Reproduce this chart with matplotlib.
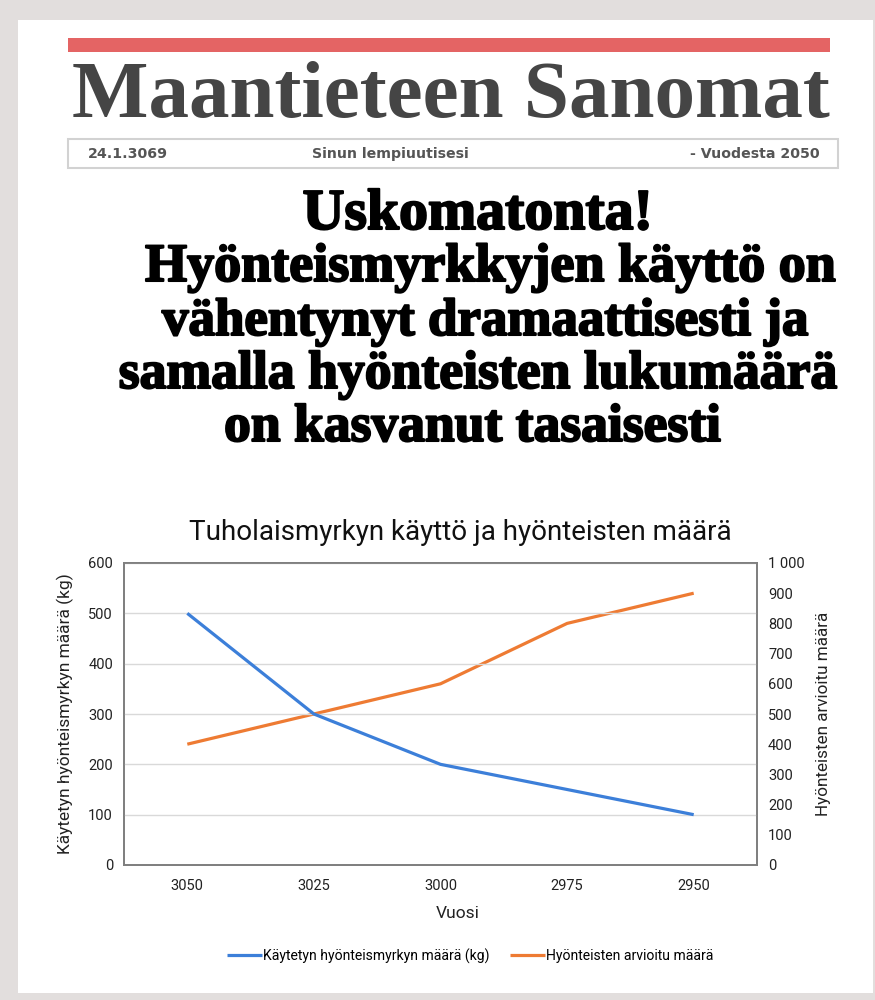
import matplotlib
matplotlib.use("Agg")
import matplotlib.pyplot as plt
import matplotlib.patches as mpatches
import matplotlib.patheffects as pe
from matplotlib.ticker import FuncFormatter, MultipleLocator

# ---- data ----
years = ["3050", "3025", "3000", "2975", "2950"]
pesticide_kg = [500, 300, 200, 150, 100]
insects = [400, 500, 600, 800, 900]

masthead = "Maantieteen Sanomat"
date_text = "24.1.3069"
slogan = "Sinun lempiuutisesi"
since_text = "- Vuodesta 2050"
headline_lines = [
    "Uskomatonta!",
    "Hyönteismyrkkyjen käyttö on",
    "vähentynyt dramaattisesti ja",
    "samalla hyönteisten lukumäärä",
    "on kasvanut tasaisesti",
]
chart_title = "Tuholaismyrkyn käyttö ja hyönteisten määrä"
xlabel = "Vuosi"
ylabel_left = "Käytetyn hyönteismyrkyn määrä (kg)"
ylabel_right = "Hyönteisten arvioitu määrä"
legend_labels = ["Käytetyn hyönteismyrkyn määrä (kg)", "Hyönteisten arvioitu määrä"]

W, H = 875, 1000
fig = plt.figure(figsize=(W / 100, H / 100), dpi=100)
fig.patch.set_facecolor("#e2dedd")

def fx(x):
    return x / W

def fy(y):
    return 1 - y / H

# page
fig.add_artist(mpatches.Rectangle((fx(18), fy(993)), fx(873) - fx(18), fy(20) - fy(993),
                                  transform=fig.transFigure, facecolor="white", edgecolor="none", zorder=0))
# red bar
fig.add_artist(mpatches.Rectangle((fx(68), fy(52)), fx(830) - fx(68), fy(38) - fy(52),
                                  transform=fig.transFigure, facecolor="#e46464", edgecolor="none", zorder=1))
# date box
fig.add_artist(mpatches.Rectangle((fx(68), fy(168)), fx(838) - fx(68), fy(139) - fy(168),
                                  transform=fig.transFigure, facecolor="white", edgecolor="#d2d2d2",
                                  linewidth=1.5, zorder=1))

renderer = fig.canvas.get_renderer()

def fit_text(x, y, s, width_px, size0, **kw):
    t = fig.text(fx(x), fy(y), s, fontsize=size0, **kw)
    w = t.get_window_extent(renderer).width
    t.set_fontsize(size0 * width_px / w)
    return t

fit_text(451, 98, masthead, 758, 60, family="Liberation Serif", weight="bold",
         color="#454545", ha="center", va="center")

for s, xx, ha in [(date_text, 88, "left"), (slogan, 390, "center"), (since_text, 820, "right")]:
    fig.text(fx(xx), fy(154), s, fontsize=10.2, family="DejaVu Sans", weight="bold",
             color="#555555", ha=ha, va="center")

hl_y = [215, 268, 322, 375, 428]
hl_w = [350, 690, 645, 718, 496]
hl_x = [478, 490, 485, 478, 472]
for s, y, w, x in zip(headline_lines, hl_y, hl_w, hl_x):
    t = fit_text(x, y, s, w, 30, family="Liberation Serif", weight="bold",
                 color="black", ha="center", va="center")
    t.set_path_effects([pe.withStroke(linewidth=1.5, foreground="black")])

# chart
ax = fig.add_axes([fx(124), fy(865), fx(757) - fx(124), fy(563) - fy(865)])
ax2 = ax.twinx()
x = list(range(len(years)))
l1, = ax.plot(x, pesticide_kg, color="#3c7fd9", linewidth=2.3, solid_capstyle="butt")
l2, = ax2.plot(x, insects, color="#ee7b33", linewidth=2.3, solid_capstyle="butt")
ax.set_zorder(ax2.get_zorder() + 1)
ax.patch.set_visible(False)

ax.set_xlim(-0.5, len(years) - 0.5)
ax.set_ylim(0, 600)
ax2.set_ylim(0, 1000)
ax.yaxis.set_major_locator(MultipleLocator(100))
ax2.yaxis.set_major_locator(MultipleLocator(100))
ax2.yaxis.set_major_formatter(FuncFormatter(lambda v, p: f"{int(v):,}".replace(",", " ")))
ax.set_xticks(x)
ax.set_xticklabels(years)
ax.grid(axis="y", color="#d9d9d9", linewidth=1)
ax.set_axisbelow(True)

for a in (ax, ax2):
    for sp in a.spines.values():
        sp.set_color("#7f7f7f")
        sp.set_linewidth(1.3)
    a.tick_params(length=0, labelsize=10.5, labelcolor="#222222", pad=8)
    for lab in a.get_yticklabels() + a.get_xticklabels():
        lab.set_family("Roboto")
ax.tick_params(axis="x", pad=10)

ax.set_ylabel(ylabel_left, fontsize=12.5, family="Roboto", color="#222222", labelpad=10)
ax2.set_ylabel(ylabel_right, fontsize=12.3, family="Roboto", color="#222222", labelpad=8)

fig.text(fx(458), fy(914), xlabel, fontsize=12.5, family="Roboto", color="#222222",
         ha="center", va="center")
fig.text(fx(460), fy(532), chart_title, fontsize=20, family="Roboto", color="#111111",
         ha="center", va="center")

fig.legend([l1, l2], legend_labels, loc="center", bbox_to_anchor=(fx(470), fy(956)),
           ncol=2, frameon=False, prop={"family": "Roboto", "size": 10.1},
           handlelength=2.5, handletextpad=0.05, columnspacing=1.5)

fig.savefig("out.png", dpi=100, facecolor=fig.get_facecolor())
